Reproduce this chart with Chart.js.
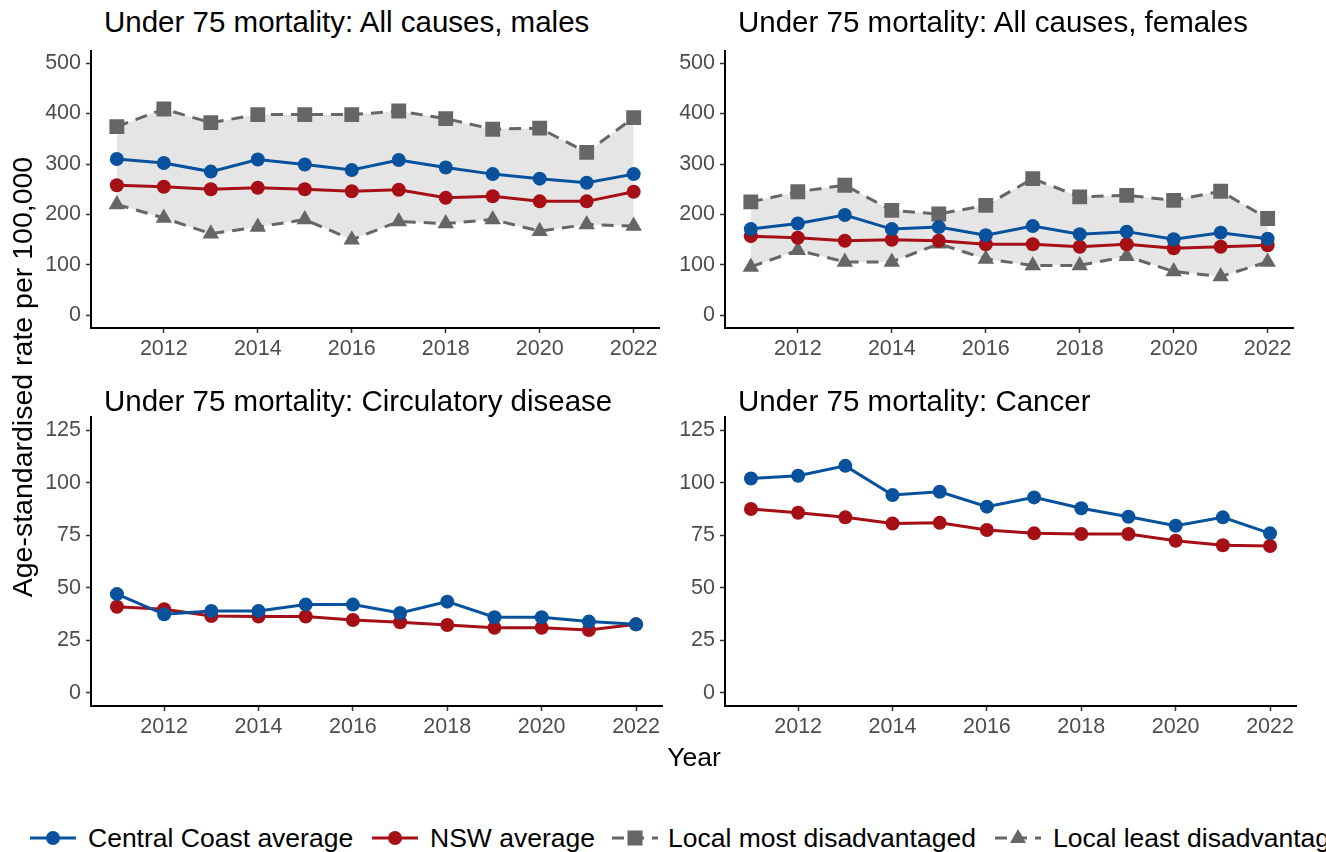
<!DOCTYPE html>
<html>
<head>
<meta charset="utf-8">
<title>Under 75 mortality</title>
<script src="https://cdn.jsdelivr.net/npm/chart.js@4.4.1/dist/chart.umd.min.js"></script>
<style>
  body { margin: 0; width: 1326px; height: 852px; overflow: hidden; background: #fff; position: relative;
         font-family: "Liberation Sans", Arial, sans-serif; }
  canvas { position: absolute; }
  .title { position: absolute; font-size: 29.5px; line-height: 34px; color: #000; white-space: nowrap; }
  .ylab { position: absolute; left: -278px; top: 362px; width: 600px; height: 30px; line-height: 30px;
          text-align: center; font-size: 28.5px; transform: rotate(-90deg); white-space: nowrap; }
  .xlab { position: absolute; left: 594px; top: 742px; width: 200px; line-height: 30px; text-align: center; font-size: 26.5px; }
  .key { position: absolute; top: 828px; }
  .ltext { position: absolute; top: 822px; font-size: 26.5px; line-height: 32px; white-space: nowrap; }
</style>
</head>
<body>

<canvas id="males" width="670" height="340" style="left:0px; top:40px;"></canvas>
<canvas id="females" width="670" height="340" style="left:634px; top:40px;"></canvas>
<canvas id="circ" width="670" height="349" style="left:0px; top:409px;"></canvas>
<canvas id="cancer" width="670" height="349" style="left:634px; top:409px;"></canvas>

<div class="title" style="left:104px; top:5px;">Under 75 mortality: All causes, males</div>
<div class="title" style="left:738px; top:5px;">Under 75 mortality: All causes, females</div>
<div class="title" style="left:104px; top:384px;">Under 75 mortality: Circulatory disease</div>
<div class="title" style="left:738px; top:384px;">Under 75 mortality: Cancer</div>

<div class="ylab">Age-standardised rate per 100,000</div>
<div class="xlab">Year</div>

<!-- legend, laid out at fixed positions -->
<svg class="key" style="left:30px" width="46" height="20"><line x1="0" y1="10" x2="46" y2="10" stroke="#08519c" stroke-width="3"/><circle cx="23" cy="10" r="7" fill="#08519c"/></svg>
<div class="ltext" style="left:88px">Central Coast average</div>
<svg class="key" style="left:372px" width="46" height="20"><line x1="0" y1="10" x2="46" y2="10" stroke="#a50f15" stroke-width="3"/><circle cx="23" cy="10" r="7" fill="#a50f15"/></svg>
<div class="ltext" style="left:430px">NSW average</div>
<svg class="key" style="left:612px" width="46" height="20"><line x1="0" y1="10" x2="46" y2="10" stroke="#666" stroke-width="3" stroke-dasharray="12 8"/><rect x="15.5" y="2.5" width="15" height="15" fill="#666"/></svg>
<div class="ltext" style="left:668px">Local most disadvantaged</div>
<svg class="key" style="left:995px" width="46" height="20"><line x1="0" y1="10" x2="46" y2="10" stroke="#666" stroke-width="3" stroke-dasharray="12 8"/><polygon points="23,1 31,15 15,15" fill="#666"/></svg>
<div class="ltext" style="left:1053px">Local least disadvantaged</div>

<script>
// years and tick labels
var years = [2011, 2012, 2013, 2014, 2015, 2016, 2017, 2018, 2019, 2020, 2021, 2022];
var yearTicks = [2012, 2014, 2016, 2018, 2020, 2022];
var allCauseTicks = [0, 100, 200, 300, 400, 500];
var diseaseTicks = [0, 25, 50, 75, 100, 125];

// all causes, males
var malesCC    = [310, 302, 285, 309, 299, 288, 308, 293, 280, 271, 263, 280];
var malesNSW   = [258, 255, 250, 253, 250, 246, 249, 233, 236, 226, 226, 245];
var malesMost  = [374, 409, 382, 398, 398, 398, 405, 390, 369, 371, 323, 392];
var malesLeast = [220, 193, 162, 175, 190, 150, 186, 182, 190, 167, 180, 177];

// all causes, females
var femalesCC    = [171, 182, 199, 171, 175, 159, 177, 161, 166, 151, 164, 152];
var femalesNSW   = [157, 154, 148, 150, 148, 141, 141, 136, 141, 133, 136, 139];
var femalesMost  = [225, 245, 258, 208, 201, 218, 271, 235, 238, 228, 246, 192];
var femalesLeast = [96, 129, 106, 106, 142, 112, 99, 99, 117, 87, 77, 106];

// circulatory disease
var circCC  = [47, 37.4, 39, 39, 42, 42, 38, 43.4, 36, 36, 33.9, 32.6];
var circNSW = [41, 39.8, 36.6, 36.3, 36.3, 34.7, 33.6, 32.3, 31, 31, 29.9, 32.6];

// cancer
var cancerCC  = [102, 103.3, 108, 94.1, 95.7, 88.6, 93, 87.8, 83.8, 79.5, 83.5, 75.9];
var cancerNSW = [87.5, 85.7, 83.5, 80.6, 80.9, 77.5, 75.9, 75.6, 75.6, 72.4, 70.2, 69.9];

var blue = '#08519c';
var red = '#a50f15';
var grey = '#666666';
var ribbon = '#e5e5e5';

function toPoints(vals) {
    return vals.map(function(v, i) { return { x: years[i], y: v }; });
}

function solidLine(vals, color) {
    return {
        data: toPoints(vals),
        borderColor: color, backgroundColor: color, borderWidth: 3,
        pointStyle: 'circle', pointRadius: 7, pointBorderWidth: 0,
        pointBackgroundColor: color, fill: false, tension: 0
    };
}

function dashedLine(vals, shape, size, fillTo) {
    return {
        data: toPoints(vals),
        borderColor: grey, borderWidth: 3, borderDash: [12, 8],
        pointStyle: shape, pointRadius: size, pointBorderWidth: 0,
        pointBackgroundColor: grey, backgroundColor: ribbon,
        fill: fillTo, tension: 0
    };
}

// drop the automatic padding chart.js adds for overhanging tick labels
function noPad(s) {
    s.paddingTop = 0; s.paddingBottom = 0; s.paddingLeft = 0; s.paddingRight = 0;
}

function makePanel(id, datasets, yMin, yMax, yTicks) {
    var tickFont = { family: 'Liberation Sans', size: 21.5 };
    new Chart(document.getElementById(id), {
        type: 'line',
        data: { datasets: datasets },
        options: {
            responsive: false,
            animation: false,
            layout: { padding: { top: 8, right: 8, left: 0, bottom: 0 } },
            plugins: { legend: { display: false }, tooltip: { enabled: false }, filler: { drawTime: 'beforeDatasetsDraw' } },
            scales: {
                x: {
                    type: 'linear', min: 2010.45, max: 2022.55,
                    afterBuildTicks: function(s) { s.ticks = yearTicks.map(function(v) { return { value: v }; }); },
                    afterFit: function(s) { s.height = 52; noPad(s); },
                    grid: { display: true, drawOnChartArea: false, drawTicks: true, tickLength: 5, tickWidth: 1.5, color: '#333' },
                    border: { display: true, color: '#000', width: 2 },
                    ticks: { color: '#4d4d4d', font: tickFont, padding: 3, maxRotation: 0, autoSkip: false,
                             callback: function(v) { return String(v); } }
                },
                y: {
                    type: 'linear', min: yMin, max: yMax,
                    afterBuildTicks: function(s) { s.ticks = yTicks.map(function(v) { return { value: v }; }); },
                    afterFit: function(s) { s.width = 91; noPad(s); },
                    grid: { display: true, drawOnChartArea: false, drawTicks: true, tickLength: 5, tickWidth: 1.5, color: '#333' },
                    border: { display: true, color: '#000', width: 2 },
                    ticks: { color: '#4d4d4d', font: tickFont, padding: 5,
                             callback: function(v) { return String(v); } }
                }
            }
        }
    });
}

// dataset 0 is drawn on top, so averages go first
makePanel('males', [
    solidLine(malesCC, blue),
    solidLine(malesNSW, red),
    dashedLine(malesMost, 'rect', 10.5, '+1'),
    dashedLine(malesLeast, 'triangle', 9.5, false)
], -25, 525, allCauseTicks);

makePanel('females', [
    solidLine(femalesCC, blue),
    solidLine(femalesNSW, red),
    dashedLine(femalesMost, 'rect', 10.5, '+1'),
    dashedLine(femalesLeast, 'triangle', 9.5, false)
], -25, 525, allCauseTicks);

makePanel('circ', [
    solidLine(circCC, blue),
    solidLine(circNSW, red)
], -6.25, 131.25, diseaseTicks);

makePanel('cancer', [
    solidLine(cancerCC, blue),
    solidLine(cancerNSW, red)
], -6.25, 131.25, diseaseTicks);
</script>
</body>
</html>
